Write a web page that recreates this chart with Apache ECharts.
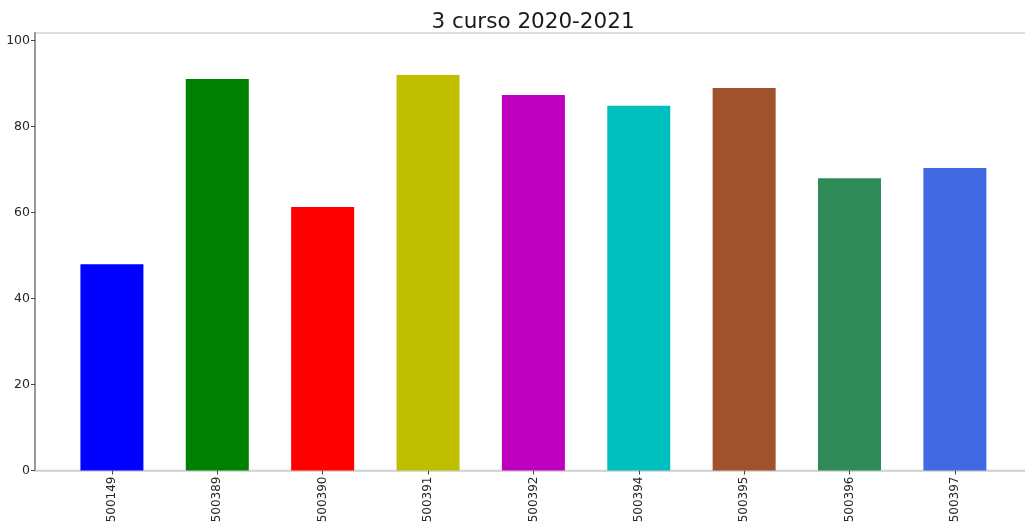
<!DOCTYPE html>
<html>
<head>
<meta charset="utf-8">
<script src="https://cdn.jsdelivr.net/npm/echarts@6/dist/echarts.min.js"></script>
<style>
html,body{margin:0;padding:0;background:#fff;}
#chart{width:1025px;height:522px;}
</style>
</head>
<body>
<div id="chart"></div>
<script>
var categories = ['500149','500389','500390','500391','500392','500394','500395','500396','500397'];
var values = [48.0, 91.1, 61.3, 92.0, 87.4, 84.9, 89.0, 68.0, 70.4];
var colors = ['#0000ff','#008000','#ff0000','#bfbf00','#bf00bf','#00bfbf','#a0522d','#2e8b57','#4169e1'];
var yTicks = [0, 20, 40, 60, 80, 100];

var chart = echarts.init(document.getElementById('chart'));
var idx = categories.map(function(c, i){ return i; });
chart.setOption({
  animation: false,
  backgroundColor: '#ffffff',
  title: {
    text: '3 curso 2020-2021',
    left: 528, top: 6, textAlign: 'center',
    textStyle: {fontFamily: 'DejaVu Sans', fontSize: 21.5, fontWeight: 'normal', color: '#1a1a1a'}
  },
  grid: {
    left: 35, top: 33, bottom: 51.5, width: 996.8,
    outerBoundsMode: 'none', containLabel: false,
    show: true, borderColor: '#d4d4d4', borderWidth: 1.5, backgroundColor: 'transparent'
  },
  xAxis: {
    type: 'value', min: -0.73, max: 8.73,
    splitLine: {show: false},
    axisLine: {show: true, onZero: false, lineStyle: {color: '#cfcfcf', width: 1.5}},
    axisTick: {show: true, length: 4, customValues: idx, lineStyle: {color: '#444'}},
    axisLabel: {
      customValues: idx, rotate: 90, margin: 6,
      fontFamily: 'DejaVu Sans', fontSize: 12, color: '#262626',
      formatter: function(v){ return categories[Math.round(v)]; }
    }
  },
  yAxis: {
    type: 'value', min: 0, max: 101.8,
    splitLine: {show: false},
    axisLine: {show: true, onZero: false, lineStyle: {color: '#9a9a9a', width: 2}},
    axisTick: {show: true, length: 4, customValues: yTicks, lineStyle: {color: '#444'}},
    axisLabel: {
      customValues: yTicks, margin: 5,
      fontFamily: 'DejaVu Sans', fontSize: 12.5, color: '#262626'
    }
  },
  series: [{
    type: 'bar',
    barWidth: 63,
    data: values.map(function(v, i){ return {value: [i, v], itemStyle: {color: colors[i]}}; })
  }]
});
</script>
</body>
</html>
